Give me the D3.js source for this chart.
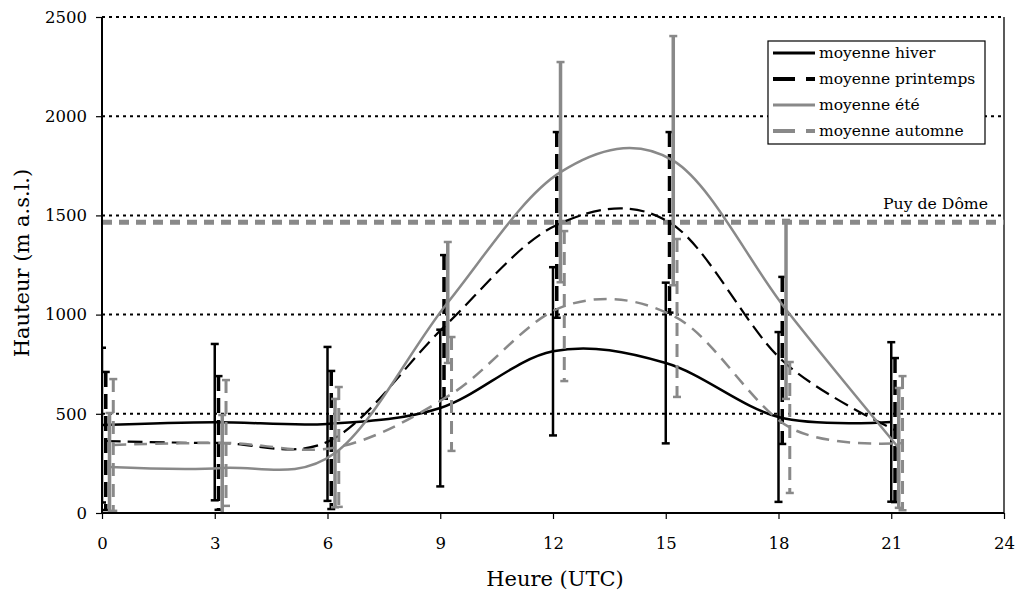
<!DOCTYPE html>
<html><head><meta charset="utf-8">
<script src="https://cdn.jsdelivr.net/npm/d3@7"></script>
<style>
body{margin:0;background:#fff;}
svg text{font-family:"DejaVu Serif","Liberation Serif",serif;fill:#000;}
</style></head>
<body><svg id="c" width="1016" height="594"></svg>
<script>
const hours = [0,3,6,9,12,15,18,21];
const xTicks = [0,3,6,9,12,15,18,21,24];
const yTicks = [0,500,1000,1500,2000,2500];
const seriesNames = ["moyenne hiver","moyenne printemps","moyenne été","moyenne automne"];
const offsets = [0,0.1,0.2,0.3];
const hiverMean = [443,458,449,529,815,756,484,459];
const hiverSd   = [390,394,388,395,424,405,428,402];
const printempsMean = [363,353,368,938,1452,1465,769,418];
const printempsSd   = [348,337,348,362,468,455,421,363];
const eteMean = [232,227,302,1061,1718,1776,1026,328];
const eteSd   = [272,267,273,305,555,628,451,302];
const automneMean = [343,353,333,600,1043,983,431,352];
const automneSd   = [332,317,302,287,378,398,330,338];
const puyDeDome = 1465;
const puyLabel = "Puy de Dôme";

const grey = "#898989";
const styles = [
  {color:"#000", w:2.5, dash:null, bw:2.5},
  {color:"#000", w:2.2, dash:"15,7", bw:3.5},
  {color:grey, w:2.5, dash:null, bw:3.5},
  {color:grey, w:2.5, dash:"13,8", bw:3}
];
const means=[hiverMean,printempsMean,eteMean,automneMean];
const sds=[hiverSd,printempsSd,eteSd,automneSd];

const svg=d3.select("#c");
const L=102,R=1004,T=17,B=513;
const x=d3.scaleLinear().domain([0,24]).range([L,R]);
const y=d3.scaleLinear().domain([0,2500]).range([B,T]);

svg.append("defs").append("clipPath").attr("id","clip").append("rect")
  .attr("x",L).attr("y",T).attr("width",R-L).attr("height",B-T);

// gridlines
svg.append("g").selectAll("line").data(yTicks.filter(d=>d>0)).join("line")
  .attr("x1",L).attr("x2",R).attr("y1",d=>y(d)).attr("y2",d=>y(d))
  .attr("stroke","#000").attr("stroke-width",2).attr("stroke-dasharray","3,4");

// right border
svg.append("line").attr("x1",R).attr("x2",R).attr("y1",T).attr("y2",B).attr("stroke","#000").attr("stroke-width",1.3);

// Puy de Dome
svg.append("line").attr("x1",L).attr("x2",R).attr("y1",y(puyDeDome)).attr("y2",y(puyDeDome))
  .attr("stroke",grey).attr("stroke-width",5).attr("stroke-dasharray","10,7");
svg.append("text").attr("x",988).attr("y",y(puyDeDome)-13).attr("text-anchor","end")
  .attr("font-size",15.7).text(puyLabel);

const plot=svg.append("g").attr("clip-path","url(#clip)");
const line=d3.line().x(d=>x(d[0])).y(d=>y(d[1])).curve(d3.curveCardinal.tension(0));

means.forEach((m,i)=>{
  const s=styles[i];
  const pts=hours.map((h,j)=>[h+offsets[i],m[j]]);
  const g=plot.append("g");
  hours.forEach((h,j)=>{
    const xx=x(h+offsets[i]);
    const lo=y(m[j]-sds[i][j]), hi=y(m[j]+sds[i][j]);
    g.append("line").attr("x1",xx).attr("x2",xx).attr("y1",hi).attr("y2",lo)
      .attr("stroke",s.color).attr("stroke-width",s.bw).attr("stroke-dasharray",s.dash);
    [hi,lo].forEach(v=>{
      g.append("line").attr("x1",xx-4).attr("x2",xx+4).attr("y1",v).attr("y2",v)
        .attr("stroke",s.color).attr("stroke-width",2.5);
    });
  });
  plot.append("path").datum(pts).attr("d",line).attr("fill","none")
    .attr("stroke",s.color).attr("stroke-width",s.w).attr("stroke-dasharray",s.dash);
});

// axes
const xAxis=d3.axisBottom(x).tickValues(xTicks).tickFormat(d3.format("d")).tickSize(6).tickPadding(18);
const gx=svg.append("g").attr("transform",`translate(0,${B})`).call(xAxis);
gx.attr("font-family",null);
gx.select(".domain").attr("stroke-width",2).attr("d",`M${L},0H${R}`);
gx.selectAll(".tick line").attr("stroke-width",1.2);
gx.selectAll("text").attr("font-size",16.5);
const yAxis=d3.axisLeft(y).tickValues(yTicks).tickFormat(d3.format("d")).tickSize(6).tickPadding(9);
const gy=svg.append("g").attr("transform",`translate(${L},0)`).call(yAxis);
gy.attr("font-family",null);
gy.select(".domain").attr("stroke-width",2).attr("d",`M0,${T}V${B}`);
gy.selectAll(".tick line").attr("stroke-width",1.2);
gy.selectAll("text").attr("font-size",16.5);

svg.append("text").attr("x",(L+R)/2+2).attr("y",586).attr("text-anchor","middle").attr("font-size",21).text("Heure (UTC)");
svg.append("text").attr("transform","translate(29,263) rotate(-90)").attr("text-anchor","middle").attr("font-size",21).text("Hauteur (m a.s.l.)");

// legend
const lg=svg.append("g");
lg.append("rect").attr("x",768).attr("y",41).attr("width",217).attr("height",103)
  .attr("fill","#fff").attr("stroke","#000").attr("stroke-width",1.2);
seriesNames.forEach((n,i)=>{
  const yy=53+i*26;
  const s=styles[i];
  lg.append("line").attr("x1",773).attr("x2",815).attr("y1",yy).attr("y2",yy)
    .attr("stroke",s.color).attr("stroke-width",s.dash?4:3).attr("stroke-dasharray",s.dash?"22,11":null);
  lg.append("text").attr("x",819).attr("y",yy+5).attr("font-size",15.5).text(n);
});
</script></body></html>
